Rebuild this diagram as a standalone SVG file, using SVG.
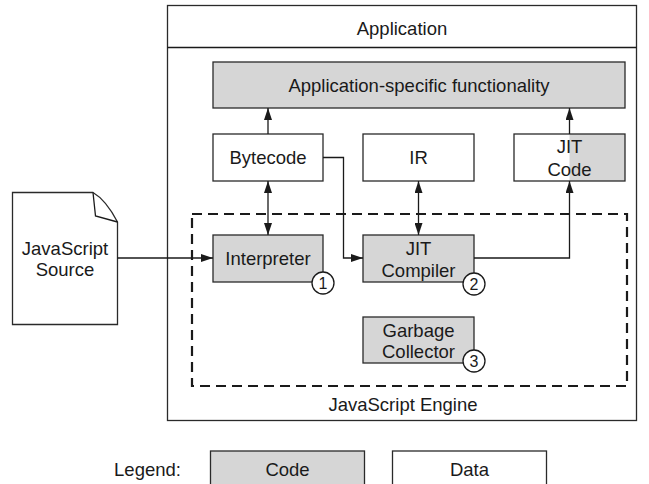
<svg xmlns="http://www.w3.org/2000/svg" width="649" height="484" viewBox="0 0 649 484">
  <style>
    text { font-family: "Liberation Sans", Arial, Helvetica, sans-serif; font-size: 18.5px; fill: #1a1a1a; text-anchor: middle; }
    .box { stroke: #2a2a2a; stroke-width: 1.3; }
    .code { fill: #d6d6d6; }
    .data { fill: #ffffff; }
    .frame { fill: #ffffff; stroke: #2a2a2a; stroke-width: 1.3; }
    .engine { fill: none; stroke: #1a1a1a; stroke-width: 2.2; stroke-dasharray: 10 6; }
    .edge { fill: none; stroke: #1a1a1a; stroke-width: 1.3; }
    .badge { fill: #ffffff; stroke: #1a1a1a; stroke-width: 1.3; }
    .num { font-size: 16px; }
  </style>
  <defs>
    <marker id="arrow" markerUnits="userSpaceOnUse" markerWidth="12" markerHeight="8" refX="12" refY="4" orient="auto-start-reverse">
      <path d="M0,0 L12,4 L0,8 z" fill="#1a1a1a"/>
    </marker>
  </defs>

  <!-- application frame -->
  <g id="application">
    <rect class="frame" x="167.5" y="5.5" width="469" height="415"/>
    <line class="edge" x1="167.5" y1="47.5" x2="636.5" y2="47.5"/>
    <text x="402" y="35">Application</text>
  </g>

  <!-- engine boundary -->
  <g id="engine">
    <rect class="engine" x="192" y="214" width="435" height="172"/>
    <text x="403" y="411">JavaScript Engine</text>
  </g>

  <g id="app-functionality">
    <rect class="box code" x="213" y="62" width="412" height="46"/>
    <text x="419" y="92">Application-specific functionality</text>
  </g>

  <g id="bytecode">
    <rect class="box data" x="213" y="134" width="110" height="47"/>
    <text x="268" y="164">Bytecode</text>
  </g>

  <g id="ir">
    <rect class="box data" x="363" y="134" width="111" height="47"/>
    <text x="418.5" y="164">IR</text>
  </g>

  <g id="jit-code">
    <rect x="514" y="134" width="55.5" height="47" class="data"/>
    <rect x="569.5" y="134" width="55.5" height="47" class="code"/>
    <rect class="box" x="514" y="134" width="111" height="47" fill="none"/>
    <text x="569.5" y="153">JIT</text>
    <text x="569.5" y="176">Code</text>
  </g>

  <g id="interpreter">
    <rect class="box code" x="213" y="235" width="110" height="47"/>
    <text x="268" y="265">Interpreter</text>
    <circle class="badge" cx="323" cy="283" r="11"/>
    <text class="num" x="323" y="289">1</text>
  </g>

  <g id="jit-compiler">
    <rect class="box code" x="363" y="235" width="111" height="47"/>
    <text x="418.5" y="254.5">JIT</text>
    <text x="418.5" y="276.5">Compiler</text>
    <circle class="badge" cx="474" cy="284" r="11"/>
    <text class="num" x="474" y="290">2</text>
  </g>

  <g id="garbage-collector">
    <rect class="box code" x="363" y="317" width="111" height="46"/>
    <text x="418.5" y="337">Garbage</text>
    <text x="418.5" y="358">Collector</text>
    <circle class="badge" cx="474" cy="361" r="11"/>
    <text class="num" x="474" y="367">3</text>
  </g>

  <g id="javascript-source">
    <path class="box data" d="M12.5,192.5 H93 Q106,200 117.5,222 V324.5 H12.5 Z"/>
    <path class="edge" d="M93,192.5 L95.5,216 L117.5,222"/>
    <text x="65" y="255">JavaScript</text>
    <text x="65" y="276">Source</text>
  </g>

  <!-- connectors -->
  <g id="connectors">
    <line class="edge" x1="117.5" y1="258" x2="213" y2="258" marker-end="url(#arrow)"/>
    <line class="edge" x1="268" y1="181" x2="268" y2="235" marker-start="url(#arrow)" marker-end="url(#arrow)"/>
    <line class="edge" x1="418.5" y1="181" x2="418.5" y2="235" marker-start="url(#arrow)" marker-end="url(#arrow)"/>
    <polyline class="edge" points="323,157.5 343.5,157.5 343.5,258 363,258" marker-end="url(#arrow)"/>
    <polyline class="edge" points="474,258 569.5,258 569.5,181" marker-end="url(#arrow)"/>
    <line class="edge" x1="268" y1="134" x2="268" y2="108" marker-end="url(#arrow)"/>
    <line class="edge" x1="569.5" y1="134" x2="569.5" y2="108" marker-end="url(#arrow)"/>
  </g>

  <!-- legend -->
  <g id="legend">
    <text x="147.5" y="476">Legend:</text>
    <rect class="box code" x="210.5" y="451" width="154" height="42"/>
    <text x="287.5" y="476">Code</text>
    <rect class="box data" x="392.5" y="451" width="154" height="42"/>
    <text x="469.5" y="476">Data</text>
  </g>
</svg>
